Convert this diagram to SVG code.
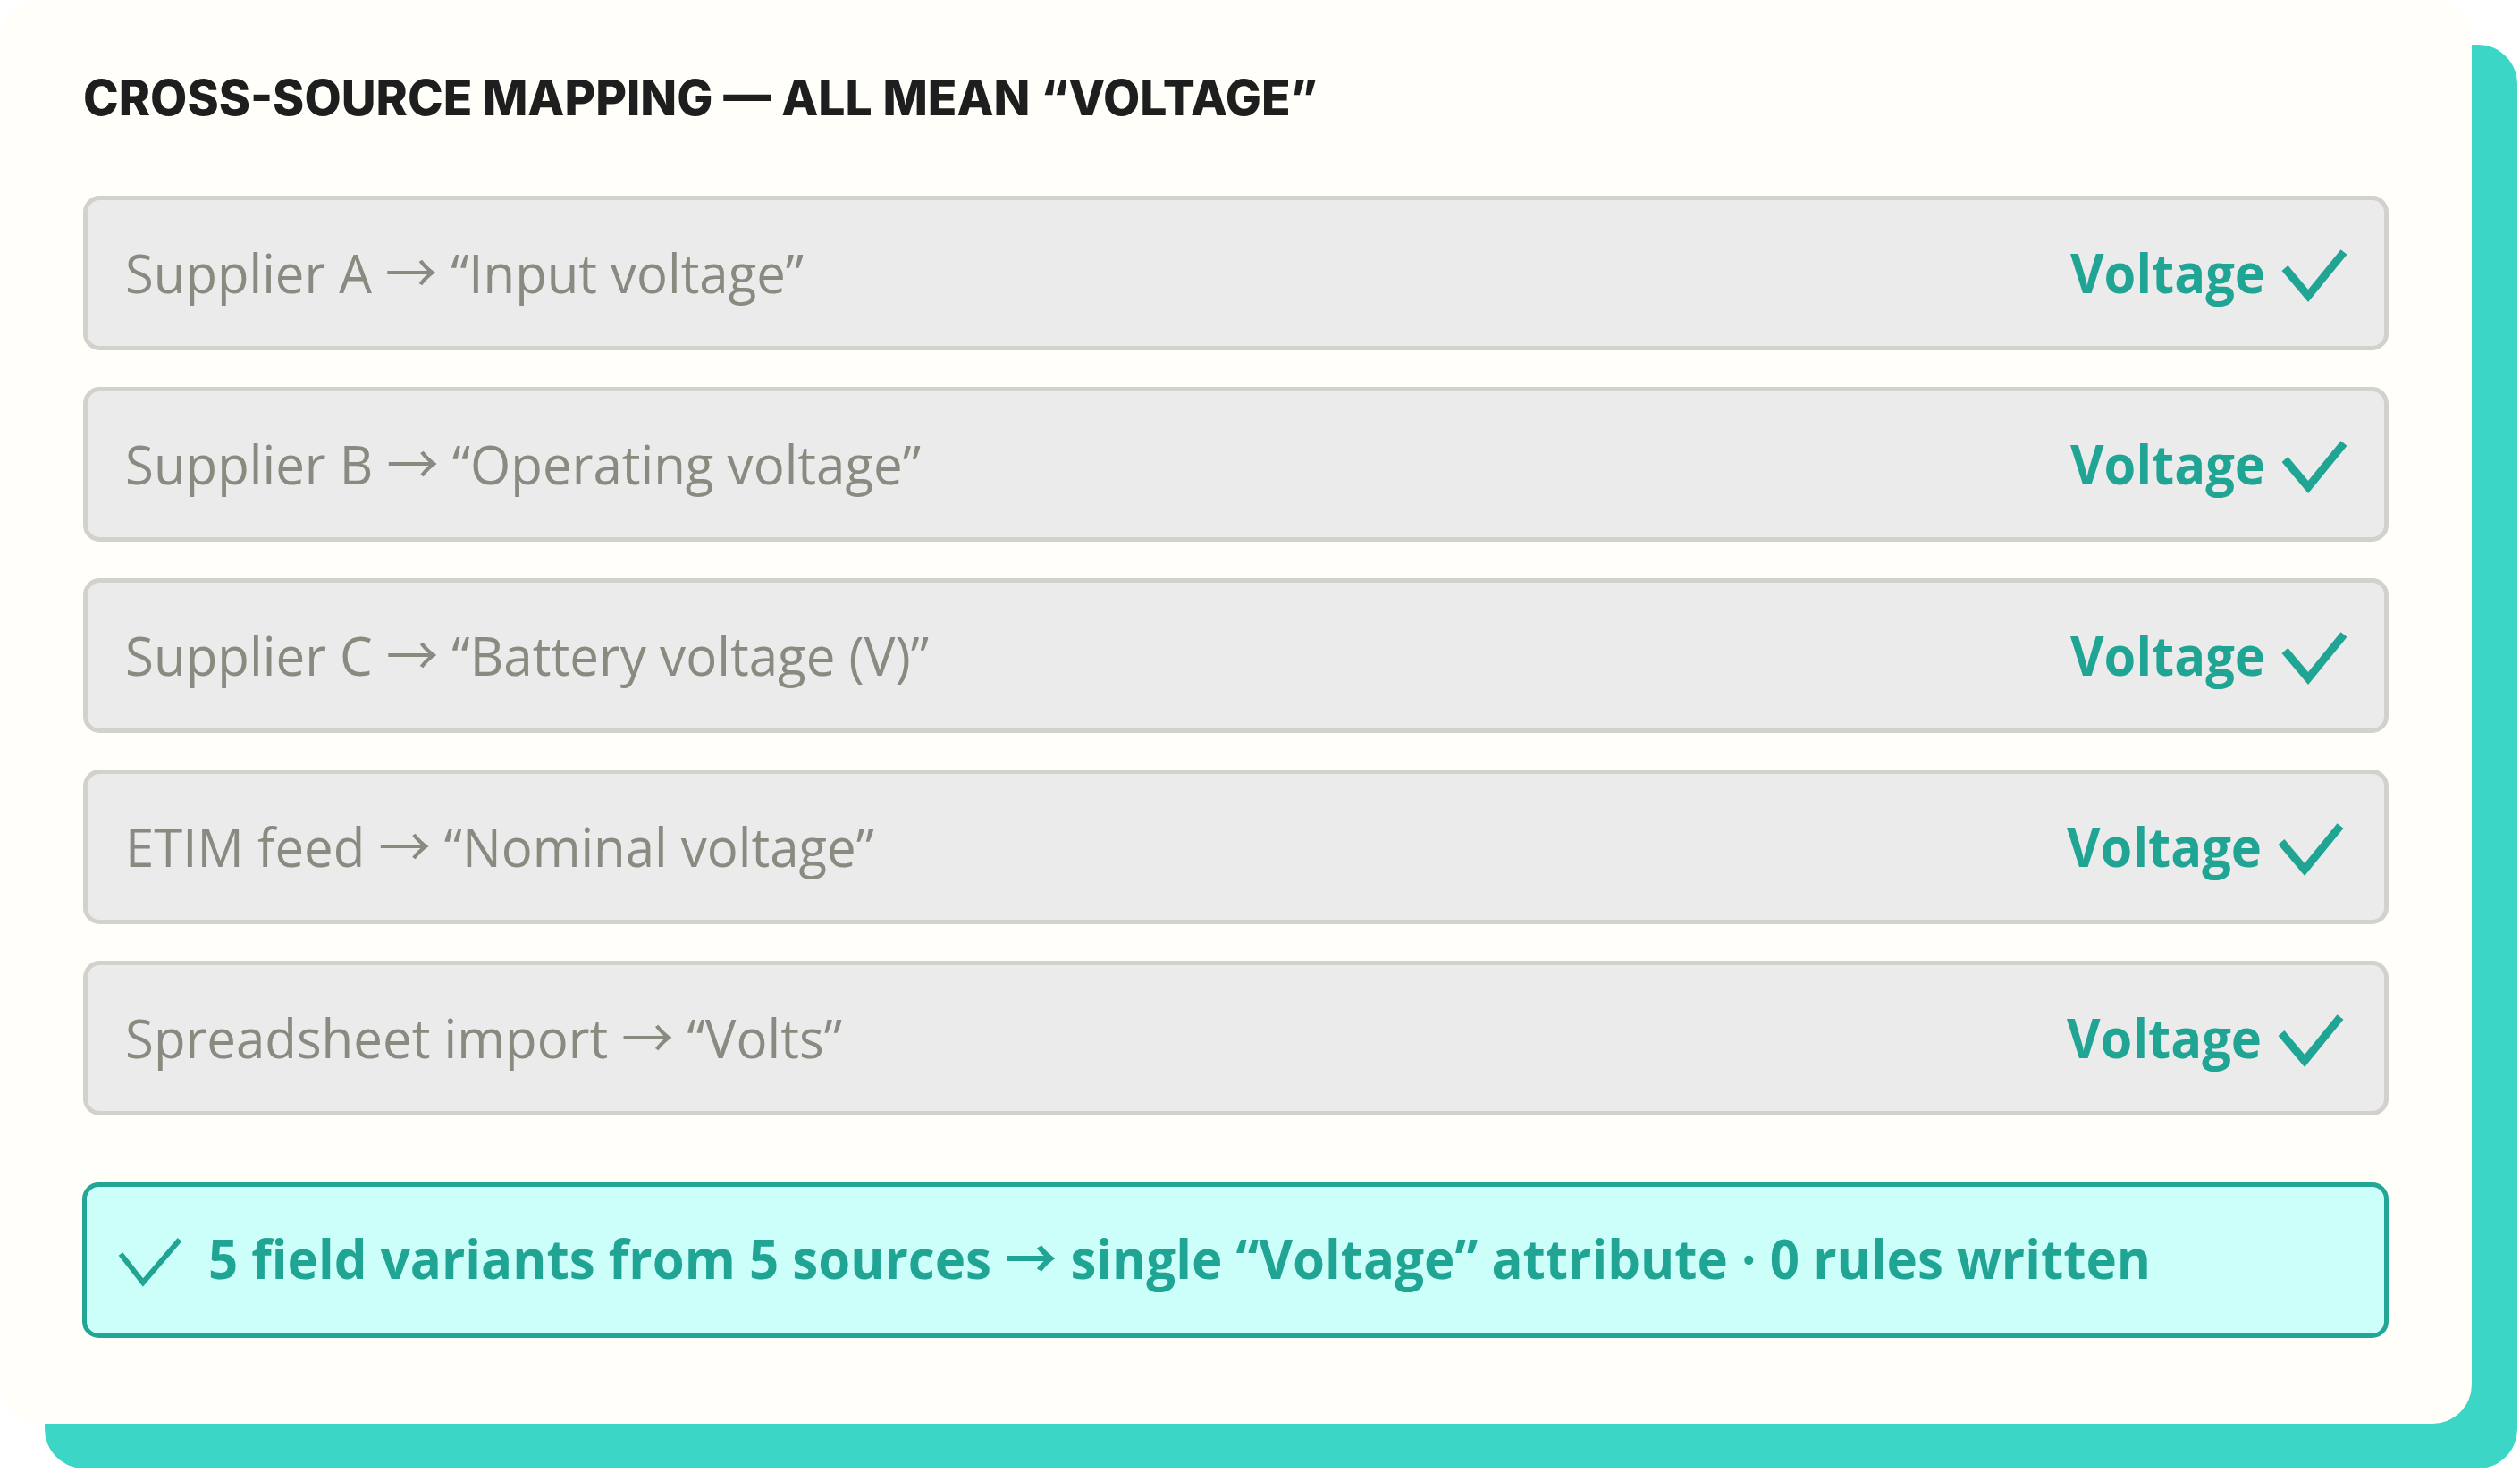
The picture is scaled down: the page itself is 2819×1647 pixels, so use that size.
<svg xmlns="http://www.w3.org/2000/svg" width="2819" height="1647" viewBox="0 0 2819 1647">
<style>
.row{fill:#ebebeb;stroke:#d2d1cc;stroke-width:5}
.src{font-family:"Open Sans","Noto Sans CJK SC",sans-serif;font-weight:400;font-size:60px;fill:#8a8a80}
.tgt{font-family:"Open Sans","Noto Sans CJK SC",sans-serif;font-weight:700;font-size:60px;fill:#20a595;text-anchor:end}
.chk{fill:none;stroke:#20a595;stroke-width:9}
.title{font-family:Inter,"Liberation Sans",sans-serif;font-weight:800;font-size:55px;fill:#1e1e1e}
</style>
<rect x="50" y="50" width="2766" height="1593" rx="44" fill="#3cd6c6"/>
<rect x="0" y="0" width="2765" height="1593" rx="44" fill="#fffef9"/>
<text class="title" x="93" y="129" textLength="1381" lengthAdjust="spacingAndGlyphs">CROSS-SOURCE MAPPING — ALL MEAN “VOLTAGE”</text>
<g id="row1">
<rect class="row" x="95.5" y="221.5" width="2574" height="168" rx="16"/>
<text class="src" x="140" y="328" textLength="759" lengthAdjust="spacingAndGlyphs">Supplier A → “Input voltage”</text>
<text class="tgt" x="2534" y="328" textLength="218" lengthAdjust="spacingAndGlyphs">Voltage</text>
<polyline class="chk" points="2556,300 2582,331 2622,282"/>
</g>
<g id="row2">
<rect class="row" x="95.5" y="435.5" width="2574" height="168" rx="16"/>
<text class="src" x="140" y="542" textLength="890" lengthAdjust="spacingAndGlyphs">Supplier B → “Operating voltage”</text>
<text class="tgt" x="2534" y="542" textLength="218" lengthAdjust="spacingAndGlyphs">Voltage</text>
<polyline class="chk" points="2556,514 2582,545 2622,496"/>
</g>
<g id="row3">
<rect class="row" x="95.5" y="649.5" width="2574" height="168" rx="16"/>
<text class="src" x="140" y="756" textLength="899" lengthAdjust="spacingAndGlyphs">Supplier C → “Battery voltage (V)”</text>
<text class="tgt" x="2534" y="756" textLength="218" lengthAdjust="spacingAndGlyphs">Voltage</text>
<polyline class="chk" points="2556,728 2582,759 2622,710"/>
</g>
<g id="row4">
<rect class="row" x="95.5" y="863.5" width="2574" height="168" rx="16"/>
<text class="src" x="140" y="970" textLength="838" lengthAdjust="spacingAndGlyphs">ETIM feed → “Nominal voltage”</text>
<text class="tgt" x="2530" y="970" textLength="218" lengthAdjust="spacingAndGlyphs">Voltage</text>
<polyline class="chk" points="2552,942 2578,973 2618,924"/>
</g>
<g id="row5">
<rect class="row" x="95.5" y="1077.5" width="2574" height="168" rx="16"/>
<text class="src" x="140" y="1184" textLength="802" lengthAdjust="spacingAndGlyphs">Spreadsheet import → “Volts”</text>
<text class="tgt" x="2530" y="1184" textLength="218" lengthAdjust="spacingAndGlyphs">Voltage</text>
<polyline class="chk" points="2552,1156 2578,1187 2618,1138"/>
</g>
<g id="summary">
<rect x="94.5" y="1325.5" width="2575" height="169" rx="16" fill="#ccfff9" stroke="#22a696" stroke-width="5"/>
<polyline points="135,1403 160,1435 201,1387" fill="none" stroke="#20a595" stroke-width="6"/>
<text x="233" y="1431" textLength="2173" lengthAdjust="spacingAndGlyphs" font-family="'Open Sans','Noto Sans CJK SC',sans-serif" font-weight="700" font-size="60" fill="#20a595">5 field variants from 5 sources → single “Voltage” attribute · 0 rules written</text>
</g>
<g id="connectors"/>
</svg>
